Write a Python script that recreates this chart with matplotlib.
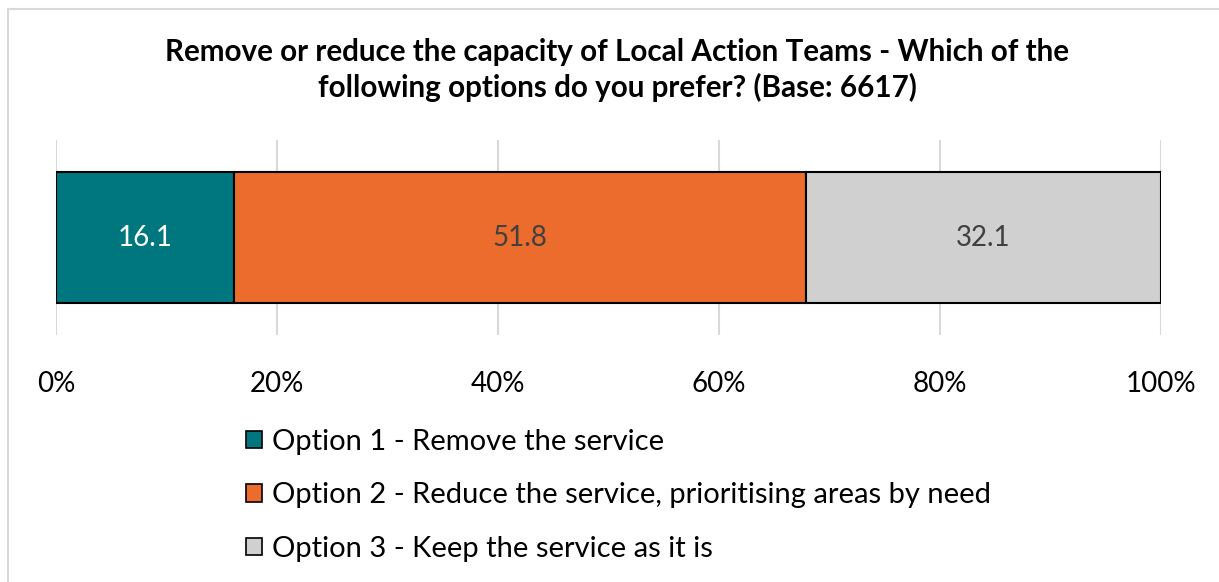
import matplotlib.pyplot as plt
from matplotlib.lines import Line2D

plt.rcParams['font.family'] = ['Lato', 'DejaVu Sans']

# survey shares (%) for each option
options = ["Option 1 - Remove the service",
           "Option 2 - Reduce the service, prioritising areas by need",
           "Option 3 - Keep the service as it is"]
shares = [16.1, 51.8, 32.1]
colors = ["#00777F", "#EC6C2D", "#D0D0D0"]
label_colors = ["white", "#404040", "#404040"]
ticks = [0, 20, 40, 60, 80, 100]

W, H = 1219, 582
fig = plt.figure(figsize=(W / 100, H / 100), dpi=100)

# light outer frame (top and left edges)
fig.add_artist(Line2D([7.5 / W, 1], [1 - 8.5 / H, 1 - 8.5 / H], color="#D9D9D9", lw=1.5))
fig.add_artist(Line2D([7.5 / W, 7.5 / W], [0, 1 - 8.5 / H], color="#D9D9D9", lw=1.5))

ax = fig.add_axes([56 / W, 1 - 335 / H, (1161 - 56) / W, 195 / H])

left = 0
for name, val, c, tc in zip(options, shares, colors, label_colors):
    ax.barh(0, val, left=left, height=0.667, color=c, edgecolor="black",
            linewidth=1.5, label=name, zorder=3)
    ax.text(left + val / 2, 0, f"{val:.1f}", ha="center", va="center",
            fontsize=20, color=tc, zorder=4)
    left += val

ax.set_xlim(0, 100)
ax.set_ylim(-0.5, 0.5)
ax.set_xticks(ticks)
ax.set_xticklabels([f"{t}%" for t in ticks], fontsize=20)
ax.tick_params(axis="x", length=0, pad=26)
ax.set_yticks([])
ax.grid(axis="x", color="#D9D9D9", linewidth=1.5, zorder=0)
for s in ax.spines.values():
    s.set_visible(False)

fig.text(617 / W, 1 - 70 / H,
         "Remove or reduce the capacity of Local Action Teams - Which of the\n"
         "following options do you prefer? (Base: 6617)",
         ha="center", va="center", fontsize=21.3, fontweight="bold",
         linespacing=1.3)

leg = fig.legend(loc="upper left", bbox_to_anchor=(246 / W, 1 - 429 / H),
                 frameon=False, fontsize=21, handlelength=0.55,
                 handleheight=0.55, handletextpad=0.33, labelspacing=0.94,
                 borderpad=0, borderaxespad=0)
for p in leg.get_patches():
    p.set_linewidth(1.2)

fig.savefig("out.png", dpi=100)
